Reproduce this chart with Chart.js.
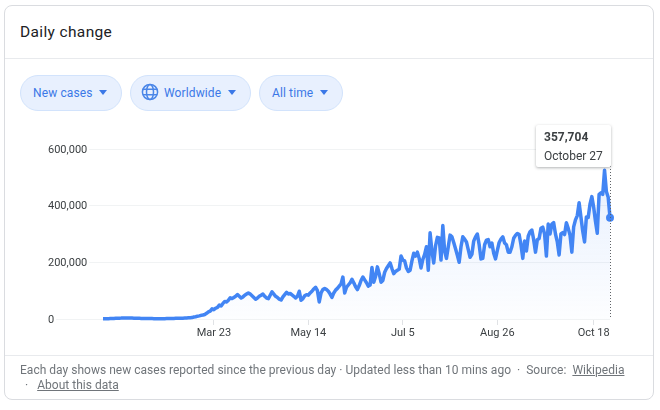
<!DOCTYPE html>
<html>
<head>
<meta charset="utf-8">
<script src="https://cdn.jsdelivr.net/npm/chart.js@4"></script>
<style>
html,body{margin:0;padding:0;background:#fff;width:660px;height:410px;overflow:hidden;font-family:Roboto,sans-serif}
#card{position:absolute;left:4px;top:5px;width:650px;height:395px;box-sizing:border-box;border:1px solid #dadce0;border-radius:8px}
#title{position:absolute;left:20px;top:22px;font-size:15.5px;line-height:20px;color:#202124;letter-spacing:.36px}
.rule{position:absolute;left:5px;width:648px;height:1px;background:#e8eaed}
.pill{position:absolute;top:75px;height:36px;box-sizing:border-box;border:1px solid #d2e3fc;border-radius:18px;background:#e8f0fe;color:#3b78e7;font-size:12px;line-height:34px}
.pill span{position:absolute;white-space:nowrap;letter-spacing:.12px}
.pill i{position:absolute;top:14px;width:0;height:0;border-left:4.5px solid transparent;border-right:4.5px solid transparent;border-top:5px solid #3b78e7}
.pill svg{position:absolute;left:10px;top:7px}
canvas{position:absolute;left:0;top:0}
#tip{position:absolute;width:75px;height:42px;box-sizing:border-box;background:#fff;box-shadow:0 1px 3px rgba(60,64,67,.4);border-radius:2px;font-size:12px;color:#3c4043;white-space:nowrap}
#tip b{position:absolute;left:8px;top:5px;line-height:14px;color:#3c4043;font-weight:700}
#tip span{position:absolute;left:8px;top:24px;line-height:14px}
#foot{position:absolute;left:20px;top:363px;width:625px;font-size:12px;line-height:15px;color:#70757a;white-space:pre;letter-spacing:.02px}
#foot u{color:#70757a}
#foot .second{margin-left:5px}
#foot .second u{margin-left:9px}
</style>
</head>
<body>
<div id="card"></div>
<div id="title">Daily change</div>
<div class="rule" style="top:58px"></div>
<div class="rule" style="top:355px"></div>
<div class="pill" style="left:20px;width:102px"><span style="left:12px">New cases</span><i style="left:78px"></i></div>
<div class="pill" style="left:130px;width:121px">
<svg width="18" height="18" viewBox="0 0 18 18" fill="none" stroke="#4a86e8" stroke-width="1.5"><circle cx="9" cy="9" r="7.6"/><ellipse cx="9" cy="9" rx="3.5" ry="7.6"/><path d="M2 6.2h14M2 11.8h14"/></svg>
<span style="left:33px">Worldwide</span><i style="left:97px"></i></div>
<div class="pill" style="left:259px;width:84px"><span style="left:12px">All time</span><i style="left:60px"></i></div>
<canvas id="c" width="660" height="410"></canvas>
<div id="tip"><b id="tipValue"></b><span id="tipDate"></span></div>
<div id="foot">Each day shows new cases reported since the previous day · Updated less than 10 mins ago  ·  Source:  <u>Wikipedia</u>
<span class="second">·<u>About this data</u></span></div>
<script>
const seriesName = "New cases";
const tickLabels = ["Mar 23", "May 14", "Jul 5", "Aug 26", "Oct 18"];
const tickDayIndexes = [61, 113, 165, 217, 270];
const yTicks = [0, 200000, 400000, 600000];
const latestDate = "October 27";
const newCases = [
600,700,900,1100,1500,1800,2000,2500,2700,3000,
3300,3800,3900,3700,3700,3200,3300,3000,2800,2500,
2300,2200,2000,1900,1800,1700,1500,1400,1300,1200,
1100,1000,1000,1100,1200,1400,1600,1700,1800,2000,
2300,2500,2700,2900,3000,3200,3500,4000,4500,5000,
7000,8000,10000,11000,13000,14000,16000,20000,25000,28000,
36000,33000,38000,41000,49000,46000,55000,62000,60000,66000,
75000,72000,76000,80000,86000,80000,74000,78000,84000,88000,
92000,88000,82000,76000,70000,74000,80000,84000,88000,80000,
74000,72000,84000,96000,88000,80000,76000,70000,67000,78000,
86000,94000,88000,90000,85000,80000,74000,80000,98000,66000,
72000,82000,86000,84000,92000,98000,106000,112000,100000,60000,
92000,104000,108000,104000,98000,88000,76000,92000,102000,108000,
116000,124000,148000,92000,112000,120000,128000,140000,128000,114000,
104000,118000,136000,148000,138000,128000,116000,120000,182000,130000,
150000,184000,160000,130000,136000,165000,178000,188000,198000,178000,
160000,168000,172000,176000,222000,208000,205000,180000,168000,172000,
205000,232000,222000,236000,214000,180000,210000,228000,255000,172000,
304000,240000,198000,258000,288000,286000,208000,330000,240000,214000,
255000,296000,290000,270000,248000,225000,200000,255000,290000,282000,
272000,245000,218000,228000,275000,290000,300000,262000,212000,214000,
262000,278000,280000,255000,268000,232000,212000,242000,270000,282000,
290000,268000,262000,236000,236000,255000,285000,295000,302000,298000,
262000,214000,275000,240000,292000,308000,314000,280000,236000,280000,
284000,320000,324000,300000,222000,335000,300000,335000,340000,300000,
272000,226000,300000,305000,298000,340000,320000,296000,236000,325000,
350000,365000,410000,360000,310000,272000,360000,358000,405000,432000,
395000,345000,303000,440000,445000,440000,525000,450000,430000,357704
];
const lastIndex = newCases.length - 1;
const leadingDays = 30.27;
const points = newCases.map((v, i) => ({x: i, y: v}));

const tipPlugin = {
  id: "tipPlugin",
  afterDatasetsDraw(chart) {
    const px = chart.scales.x.getPixelForValue(lastIndex);
    const yBottom = chart.scales.y.getPixelForValue(0);
    const g = chart.ctx;
    g.save();
    g.strokeStyle = "#5f6368";
    g.lineWidth = 1;
    g.setLineDash([1, 2]);
    g.beginPath();
    g.moveTo(Math.round(px) + .5, 160);
    g.lineTo(Math.round(px) + .5, yBottom);
    g.stroke();
    g.restore();
    const tip = document.getElementById("tip");
    tip.style.left = (px + 1 - 75) + "px";
    tip.style.top = "125px";
    document.getElementById("tipValue").textContent = newCases[lastIndex].toLocaleString("en-US");
    document.getElementById("tipDate").textContent = latestDate;
  }
};

new Chart(document.getElementById("c"), {
  type: "line",
  plugins: [tipPlugin],
  data: {
    datasets: [{
      label: seriesName,
      data: points,
      borderColor: "#4285f4",
      borderWidth: 3.5,
      borderJoinStyle: "round",
      tension: 0,
      clip: false,
      fill: "origin",
      backgroundColor(ctx) {
        const a = ctx.chart.chartArea;
        if (!a) return "transparent";
        const g = ctx.chart.ctx.createLinearGradient(0, a.top, 0, a.bottom);
        g.addColorStop(0, "rgba(66,133,244,.14)");
        g.addColorStop(1, "rgba(66,133,244,.01)");
        return g;
      },
      pointRadius: c => c.dataIndex === lastIndex ? 4 : 0,
      pointBackgroundColor: "#4285f4",
      pointBorderWidth: 0
    }]
  },
  options: {
    responsive: false,
    animation: false,
    events: [],
    layout: {padding: {left: 48, right: 50, top: 149, bottom: 61}},
    plugins: {legend: {display: false}, tooltip: {enabled: false}},
    scales: {
      x: {
        type: "linear",
        min: -leadingDays,
        max: lastIndex,
        afterBuildTicks(s) { s.ticks = tickDayIndexes.map(v => ({value: v})); },
        afterFit(s) { s.height = 30; s.paddingLeft = 0; s.paddingRight = 0; },
        grid: {drawOnChartArea: false, drawTicks: true, tickLength: 6, tickColor: "#e0e2e5"},
        border: {display: false},
        ticks: {
          autoSkip: false, maxRotation: 0, padding: 2,
          font: {family: "Roboto", size: 11}, color: "#3c4043",
          callback: v => tickLabels[tickDayIndexes.indexOf(v)]
        }
      },
      y: {
        min: 0, max: 600000,
        afterBuildTicks(s) { s.ticks = yTicks.map(v => ({value: v})); },
        grid: {color: "#f1f3f4", drawTicks: false},
        border: {display: false},
        ticks: {
          mirror: true, padding: 0, z: 1, labelOffset: 1,
          showLabelBackdrop: true, backdropColor: "#fff",
          backdropPadding: {left: 0, right: 2, top: 0, bottom: 0},
          font: {family: "Roboto", size: 11}, color: "#3c4043",
          callback: v => v.toLocaleString("en-US")
        }
      }
    }
  }
});
</script>
</body>
</html>
